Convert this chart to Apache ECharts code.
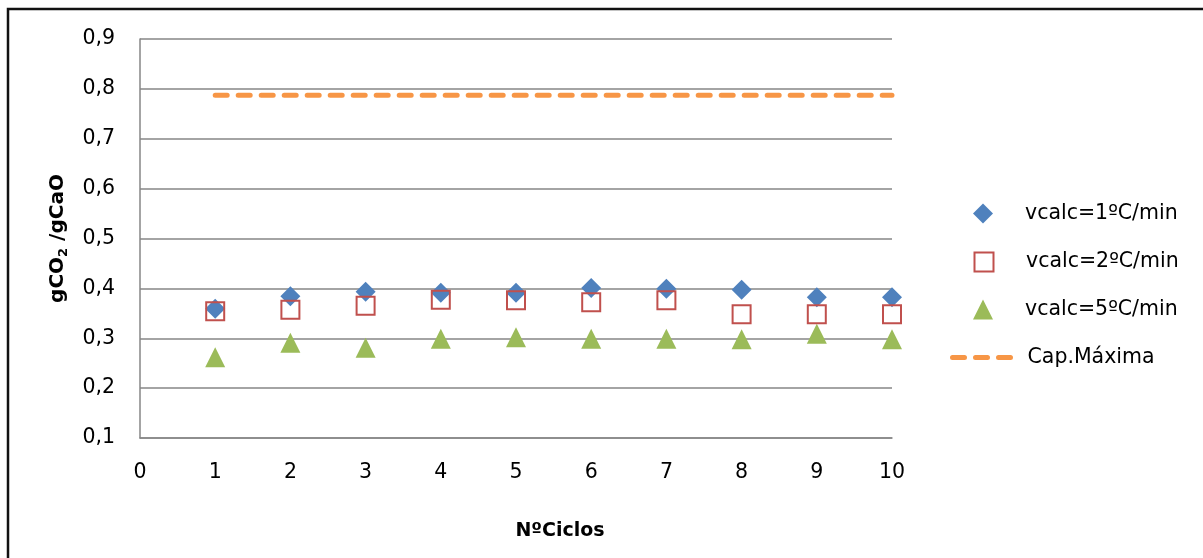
<!DOCTYPE html>
<html>
<head>
<meta charset="utf-8">
<script src="https://cdn.jsdelivr.net/npm/echarts@6/dist/echarts.min.js"></script>
<style>
  html, body { margin: 0; padding: 0; background: #fff; }
  #chart { width: 1203px; height: 558px; }
</style>
</head>
<body>
<div id="chart"></div>
<script>
// Cycle numbers (x) and CO2 uptake per gram CaO for each calcination rate
const cycles = [1, 2, 3, 4, 5, 6, 7, 8, 9, 10];
const rate1 = [0.359, 0.384, 0.393, 0.391, 0.391, 0.401, 0.399, 0.397, 0.382, 0.382];
const rate2 = [0.354, 0.357, 0.365, 0.377, 0.376, 0.372, 0.376, 0.348, 0.348, 0.348];
const rate5 = [0.262, 0.291, 0.281, 0.299, 0.302, 0.299, 0.299, 0.298, 0.309, 0.298];
const capMax = [0.787, 0.787, 0.787, 0.787, 0.787, 0.787, 0.787, 0.787, 0.787, 0.787];

const seriesNames = ['vcalc=1ºC/min', 'vcalc=2ºC/min', 'vcalc=5ºC/min', 'Cap.Máxima'];

const FONT = '"DejaVu Sans", sans-serif';
const FS = 20.5;
const FS_TITLE = 19;
const pairs = (ys) => cycles.map((c, i) => [c, ys[i]]);
const comma = (v) => v.toFixed(1).replace('.', ',');

const chart = echarts.init(document.getElementById('chart'), null, { renderer: 'canvas' });

// one legend block per marker so each icon keeps its own size
const markerLegend = (name, top, w, h) => ({
  data: [name],
  orient: 'vertical',
  padding: 0,
  left: 983 - w / 2,
  top: top - h / 2,
  itemWidth: w,
  itemHeight: h,
  textStyle: { fontFamily: FONT, fontSize: FS, color: '#000', padding: [0, 0, 0, 37 - w / 2] }
});

chart.setOption({
  backgroundColor: '#fff',
  animation: false,
  textStyle: { fontFamily: FONT },
  grid: { left: 140, right: 311, top: 39, bottom: 120, containLabel: false },
  xAxis: {
    type: 'value',
    min: 0, max: 10, interval: 1,
    name: 'NºCiclos',
    nameLocation: 'middle',
    nameGap: 84,
    nameTextStyle: { fontFamily: FONT, fontSize: FS_TITLE, fontWeight: 'bold', color: '#000', padding: [0, 0, 0, 88] },
    axisLine: { show: true, lineStyle: { color: '#868686', width: 1.5 } },
    axisTick: { show: false },
    splitLine: { show: false },
    axisLabel: { fontFamily: FONT, fontSize: FS, color: '#000', margin: 24 }
  },
  yAxis: {
    type: 'value',
    min: 0.1, max: 0.9, interval: 0.1,
    name: '{a|gCO}{s|2}{a| /gCaO}',
    nameLocation: 'middle',
    nameGap: 70,
    nameRotate: 90,
    nameTextStyle: {
      rich: {
        a: { fontFamily: FONT, fontSize: 20, fontWeight: 'bold', color: '#000' },
        s: { fontFamily: FONT, fontSize: 13, fontWeight: 'bold', color: '#000', verticalAlign: 'bottom', padding: [12, 0, 0, 0] }
      }
    },
    axisLine: { show: true, lineStyle: { color: '#868686', width: 1.5 } },
    axisTick: { show: false },
    splitLine: { show: true, lineStyle: { color: '#868686', width: 1.5 } },
    axisLabel: { fontFamily: FONT, fontSize: FS, color: '#000', margin: 25, formatter: comma }
  },
  legend: [
    markerLegend(seriesNames[0], 213, 20, 20),
    markerLegend(seriesNames[1], 261, 19, 19),
    markerLegend(seriesNames[2], 309, 20, 20),
    {
      data: [seriesNames[3]],
      orient: 'vertical',
      padding: 0,
      left: 950,
      top: 347,
      itemWidth: 58,
      itemHeight: 20,
      itemStyle: { opacity: 0 },
      lineStyle: { width: 5, type: [12, 11], cap: 'round', color: '#F79646' },
      textStyle: { fontFamily: FONT, fontSize: FS, color: '#000', padding: [0, 0, 0, 12] }
    }
  ],
  graphic: [
    {
      type: 'polyline',
      shape: { points: [[8, 558], [8, 9], [1203, 9]] },
      style: { stroke: '#111', lineWidth: 2.5, fill: null },
      silent: true
    }
  ],
  series: [
    {
      name: seriesNames[3],
      type: 'line',
      data: pairs(capMax),
      symbol: 'none',
      z: 1,
      lineStyle: { color: '#F79646', width: 5, type: [12, 11], cap: 'round' },
      itemStyle: { color: '#F79646' }
    },
    {
      name: seriesNames[0],
      type: 'scatter',
      data: pairs(rate1),
      symbol: 'diamond',
      symbolSize: 20,
      z: 3,
      itemStyle: { color: '#4F81BD', opacity: 1 }
    },
    {
      name: seriesNames[1],
      type: 'scatter',
      data: pairs(rate2),
      symbol: 'rect',
      symbolSize: 18,
      z: 4,
      itemStyle: { color: 'rgba(255,255,255,0)', borderColor: '#C0504D', borderWidth: 2, opacity: 1 }
    },
    {
      name: seriesNames[2],
      type: 'scatter',
      data: pairs(rate5),
      symbol: 'triangle',
      symbolSize: 20,
      z: 2,
      itemStyle: { color: '#9BBB59', opacity: 1 }
    }
  ]
});
</script>
</body>
</html>
